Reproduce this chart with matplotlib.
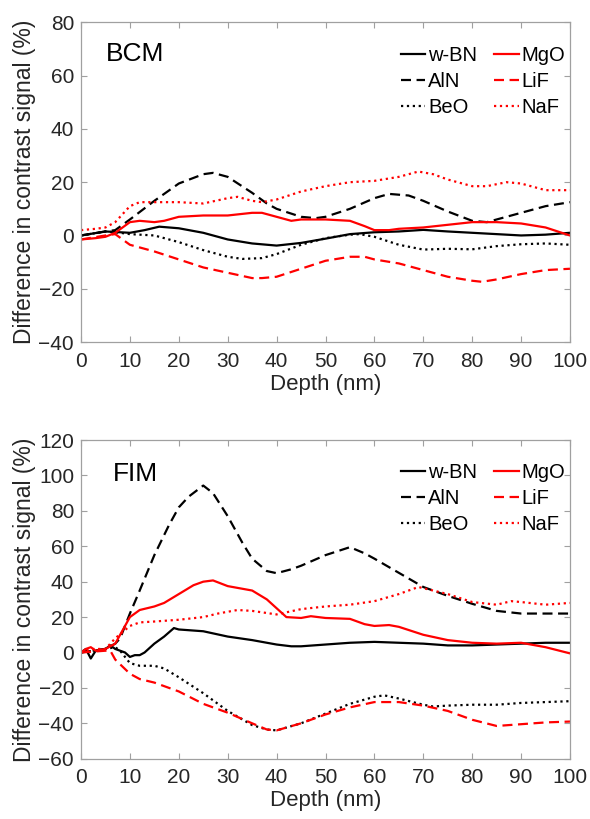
import matplotlib.pyplot as plt

plt.rcParams['font.family'] = ['Liberation Sans', 'DejaVu Sans']

# ---- BCM panel data (depth nm, difference %) ----
bcm_wbn_x = [0, 5, 10, 13, 16, 20, 25, 30, 35, 40, 45, 50, 55, 60, 65, 70, 75, 80, 85, 90, 95, 100]
bcm_wbn_y = [0, 1.5, 1, 2, 3.3, 2.7, 1, -1.5, -3, -3.8, -2.8, -1.2, 0.5, 1.2, 1.5, 2.1, 1.5, 1, 0.5, 0, 0.3, 1]

bcm_aln_x = [0, 5, 7, 10, 15, 20, 25, 27, 30, 35, 38, 40, 45, 48, 50, 55, 60, 63, 67, 70, 75, 80, 83, 85, 90, 95, 100]
bcm_aln_y = [0, 1.5, 2, 6, 13, 19.5, 23, 23.5, 22, 16, 12, 10, 7, 6.5, 7, 10, 14, 15.6, 15, 13, 9, 5.5, 5, 6, 8.5, 11, 12.5]

bcm_beo_x = [0, 5, 8, 10, 15, 20, 25, 30, 33, 37, 40, 45, 50, 55, 57, 60, 65, 70, 75, 80, 85, 90, 95, 100]
bcm_beo_y = [0, 1.5, 1, 0.5, 0, -2.5, -5.5, -8, -8.8, -8.5, -7, -3.5, -1, 0.3, 0.5, -0.5, -3.5, -5.3, -5, -5.2, -4, -3.3, -3, -3.5]

bcm_mgo_x = [0, 3, 5, 7, 10, 12, 15, 17, 20, 25, 30, 35, 37, 40, 43, 45, 50, 55, 58, 60, 63, 65, 70, 75, 80, 85, 90, 95, 100]
bcm_mgo_y = [-1.5, -1, -0.5, 1, 5, 5.5, 5, 5.5, 7, 7.5, 7.5, 8.5, 8.5, 7, 5.5, 6, 6, 5.5, 3.5, 2, 2, 2.5, 3, 4, 5, 5, 4.5, 3, 0]

bcm_lif_x = [0, 5, 7, 10, 15, 20, 25, 30, 35, 37, 40, 45, 50, 55, 58, 60, 65, 70, 75, 80, 82, 85, 90, 95, 100]
bcm_lif_y = [-1.5, 0, 0.5, -3.5, -6, -9, -12, -14, -16, -16, -15.5, -12.5, -9.5, -8, -8, -9, -10.5, -13, -15.5, -17, -17.4, -16.5, -14.5, -13, -12.5]

bcm_naf_x = [0, 3, 5, 7, 10, 12, 15, 20, 25, 30, 32, 35, 37, 40, 45, 50, 55, 60, 65, 69, 72, 75, 80, 83, 87, 90, 95, 100]
bcm_naf_y = [2, 2.5, 3, 5, 11, 12.5, 12.5, 12.5, 12, 14, 14.5, 13, 12.5, 13.5, 16.5, 18.5, 20, 20.5, 22, 24, 23, 21, 18.5, 18.5, 20, 19.5, 17, 17]

# ---- FIM panel data ----
fim_wbn_x = [0, 1, 2, 3, 5, 6, 7, 8, 9, 10, 11, 12, 13, 15, 17, 19, 20, 25, 30, 35, 40, 43, 45, 50, 55, 60, 65, 70, 75, 80, 85, 90, 95, 100]
fim_wbn_y = [0, 2, -3.4, 1, 2, 4, 2, 1, 0, -2.5, -1.5, -1.5, 0, 5, 9, 13.8, 13, 12, 9, 7, 4.5, 3.5, 3.5, 4.5, 5.5, 6, 5.5, 5, 4, 4, 4.5, 5, 5.5, 5.5]

fim_aln_x = [0, 5, 7, 8, 10, 12, 15, 18, 20, 22, 25, 27, 30, 33, 35, 38, 40, 43, 45, 50, 55, 58, 60, 65, 70, 75, 80, 85, 90, 95, 100]
fim_aln_y = [0, 2, 5, 8, 22, 35, 55, 72, 82, 88, 94.3, 90, 77, 62, 53, 46, 44.8, 47, 49, 55, 59.5, 56, 53, 45, 37, 32, 27.5, 23.5, 22, 22, 22]

fim_beo_x = [0, 5, 7, 8, 10, 12, 15, 17, 20, 25, 30, 35, 38, 40, 45, 50, 55, 60, 62, 65, 70, 72, 75, 80, 85, 90, 95, 100]
fim_beo_y = [0, 2, 3, 1, -6, -7.5, -7.5, -9, -14, -23, -33, -41, -43.5, -44, -40, -34.5, -29, -25, -24.2, -26, -29.5, -30.5, -30, -29.5, -29.5, -28.5, -28, -27.5]

fim_mgo_x = [0, 1, 2, 3, 5, 7, 8, 10, 12, 15, 17, 20, 23, 25, 27, 30, 33, 35, 38, 40, 42, 45, 47, 50, 55, 58, 60, 63, 65, 70, 75, 80, 85, 90, 95, 100]
fim_mgo_y = [0, 2, 3, 1, 2, 5, 10, 20, 24, 26, 28, 33, 38, 40, 40.7, 37.5, 36, 35, 30, 25, 20, 19.5, 20.5, 19.5, 19, 16, 15, 15.5, 14.5, 10, 7, 5.5, 5, 5.5, 3, -0.5]

fim_lif_x = [0, 5, 6, 7, 10, 12, 15, 20, 25, 30, 35, 38, 40, 45, 50, 55, 60, 65, 70, 75, 80, 85, 90, 95, 100]
fim_lif_y = [0, 1, 1, -4, -12, -15, -17, -22, -29, -34, -40, -43.5, -44, -40, -35, -31, -28, -28, -30, -33, -38, -41.5, -40.5, -39.5, -39]

fim_naf_x = [0, 2, 5, 7, 10, 12, 15, 20, 25, 28, 32, 35, 40, 45, 50, 55, 60, 65, 69, 72, 75, 80, 85, 88, 90, 95, 100]
fim_naf_y = [0, 2, 2, 8, 15, 17, 17.5, 18.5, 20, 22, 24, 23.5, 21.5, 24.5, 26, 27, 29, 33, 37, 35, 33, 28.5, 27, 29, 28.5, 27, 28]

labels = ['w-BN', 'AlN', 'BeO', 'MgO', 'LiF', 'NaF']
colors = ['black', 'black', 'black', 'red', 'red', 'red']
styles = ['-', (0, (4.5, 2.5)), ':', '-', (0, (4.5, 2.5)), ':']

bcm = [(bcm_wbn_x, bcm_wbn_y), (bcm_aln_x, bcm_aln_y), (bcm_beo_x, bcm_beo_y),
       (bcm_mgo_x, bcm_mgo_y), (bcm_lif_x, bcm_lif_y), (bcm_naf_x, bcm_naf_y)]
fim = [(fim_wbn_x, fim_wbn_y), (fim_aln_x, fim_aln_y), (fim_beo_x, fim_beo_y),
       (fim_mgo_x, fim_mgo_y), (fim_lif_x, fim_lif_y), (fim_naf_x, fim_naf_y)]

fig = plt.figure(figsize=(5.9, 8.19), dpi=100)
ax1 = fig.add_axes([0.1373, 0.5824, 0.8288, 0.3903])
ax2 = fig.add_axes([0.1373, 0.0736, 0.8288, 0.3891])

# axes, data, panel name, ylim, yticks, name position, legend anchor
panels = [(ax1, bcm, 'BCM', (-40, 80), range(-40, 81, 20), (0.110, 0.902), (1.007, 0.951)),
          (ax2, fim, 'FIM', (-60, 120), range(-60, 121, 20), (0.112, 0.893), (1.007, 0.953))]

for ax, data, name, ylim, yt, npos, lpos in panels:
    for (x, y), lab, c, ls in zip(data, labels, colors, styles):
        ax.plot(x, y, color=c, linestyle=ls, linewidth=1.6, label=lab)
    ax.set_xlim(0, 100)
    ax.set_ylim(*ylim)
    ax.set_xticks(range(0, 101, 10))
    ax.set_yticks(list(yt))
    ax.set_xlabel('Depth (nm)', fontsize=16, color='#262626', labelpad=2)
    ax.set_ylabel('Difference in contrast signal (%)', fontsize=16.5, color='#262626', labelpad=2)
    ax.tick_params(direction='in', top=True, right=True, length=4, width=0.8,
                   color='#a0a0a0', labelcolor='#262626', labelsize=15)
    ax.tick_params(axis='x', pad=7)
    ax.tick_params(axis='y', pad=5)
    for s in ax.spines.values():
        s.set_color('#a0a0a0')
        s.set_linewidth(0.9)
    ax.text(npos[0], npos[1], name, transform=ax.transAxes, fontsize=19,
            ha='center', va='center')
    ax.legend(ncol=2, frameon=False, loc='upper right', fontsize=14.5,
              handlelength=1.2, handletextpad=0.15, columnspacing=0.85,
              labelspacing=0.35, borderaxespad=0, bbox_to_anchor=lpos)

fig.savefig('out.png', dpi=100)
